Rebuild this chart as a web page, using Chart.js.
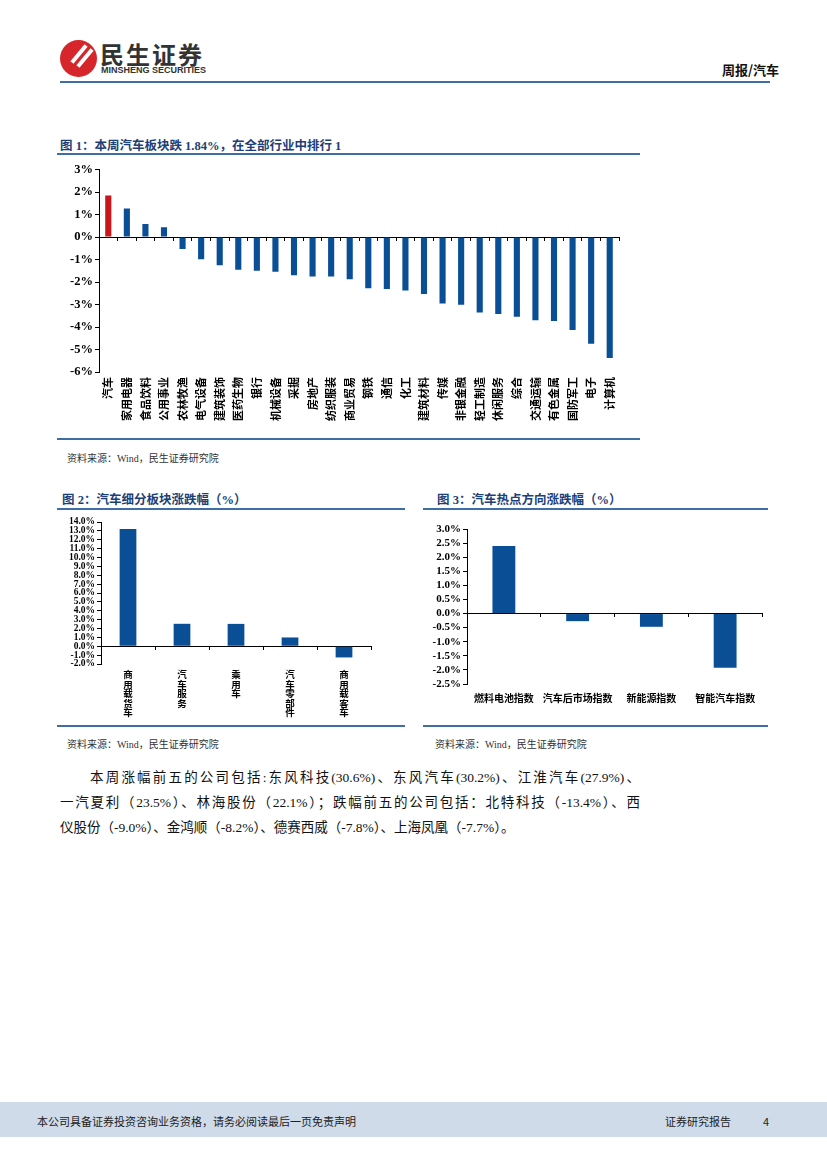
<!DOCTYPE html>
<html>
<head>
<meta charset="utf-8">
<script src="https://cdn.jsdelivr.net/npm/chart.js@4.4.0/dist/chart.umd.min.js"></script>
<style>
  body { margin: 0; width: 827px; height: 1169px; position: relative; background: #fff;
         font-family: "Noto Sans CJK SC", sans-serif; overflow: hidden; }
  .abs { position: absolute; }
  .title { font-size: 12.5px; font-weight: bold; color: #1c3f78; font-family: "Liberation Serif", "Noto Sans CJK SC", serif; }
  .rule { height: 2px; background: #3f6ea3; }
  .src { font-size: 10px; color: #333; font-family: "Liberation Serif", "Noto Sans CJK SC", serif; }
  .para { font-size: 13.5px; color: #111; font-family: "Liberation Serif", "Noto Sans CJK SC", serif; }
</style>
</head>
<body>
<!-- header -->
<div class="abs" style="left:60px;top:40px;width:37px;height:37px;border-radius:50%;background:#d7262b;"></div>
<div class="abs" style="left:68px;top:52px;width:22px;height:4px;background:#fff;transform:rotate(-50deg);"></div>
<div class="abs" style="left:74px;top:56px;width:22px;height:4px;background:#fff;transform:rotate(-50deg);"></div>
<div class="abs" style="left:100px;top:36px;font-size:24px;font-weight:bold;color:#333;letter-spacing:2px;">民生证券</div>
<div class="abs" style="left:101px;top:65px;font-size:9px;font-weight:bold;color:#333;font-family:'Liberation Sans Narrow','Liberation Sans',sans-serif;">MINSHENG SECURITIES</div>
<div class="abs" style="left:722px;top:60px;font-size:13px;font-weight:bold;color:#111;">周报/汽车</div>
<div class="abs rule" style="left:60px;top:81px;width:710px;"></div>

<!-- figure 1 -->
<div class="abs title" style="left:60px;top:135px;">图 1：本周汽车板块跌 1.84%，在全部行业中排行 1</div>
<div class="abs rule" style="left:57px;top:153px;width:583px;"></div>
<div class="abs" style="left:60px;top:160px;width:580px;height:276px;"><canvas id="chart1"></canvas></div>
<div class="abs rule" style="left:57px;top:438px;width:583px;"></div>
<div class="abs src" style="left:67px;top:450px;">资料来源：Wind，民生证券研究院</div>

<!-- figure 2 -->
<div class="abs title" style="left:62px;top:489px;">图 2：汽车细分板块涨跌幅（%）</div>
<div class="abs rule" style="left:57px;top:508px;width:348px;"></div>
<div class="abs" style="left:60px;top:514px;width:345px;height:210px;"><canvas id="chart2"></canvas></div>
<div class="abs rule" style="left:57px;top:725px;width:348px;"></div>
<div class="abs src" style="left:67px;top:736px;">资料来源：Wind，民生证券研究院</div>

<!-- figure 3 -->
<div class="abs title" style="left:437px;top:489px;">图 3：汽车热点方向涨跌幅（%）</div>
<div class="abs rule" style="left:423px;top:508px;width:345px;"></div>
<div class="abs" style="left:423px;top:518px;width:345px;height:205px;"><canvas id="chart3"></canvas></div>
<div class="abs rule" style="left:423px;top:725px;width:345px;"></div>
<div class="abs src" style="left:435px;top:736px;">资料来源：Wind，民生证券研究院</div>

<!-- paragraph -->
<div class="abs para" style="left:90px;top:766px;width:550px;text-align:justify;text-align-last:justify;">本周涨幅前五的公司包括:东风科技(30.6%)、东风汽车(30.2%)、江淮汽车(27.9%)、</div>
<div class="abs para" style="left:60px;top:791px;width:580px;text-align:justify;text-align-last:justify;">一汽夏利（23.5%）、林海股份（22.1%）；跌幅前五的公司包括：北特科技（-13.4%）、西</div>
<div class="abs para" style="left:60px;top:816px;">仪股份（-9.0%）、金鸿顺（-8.2%）、德赛西威（-7.8%）、上海凤凰（-7.7%）。</div>

<!-- footer -->
<div class="abs" style="left:0;top:1102px;width:827px;height:35px;background:#cfdbe9;"></div>
<div class="abs" style="left:37px;top:1113px;font-size:11px;color:#222;">本公司具备证券投资咨询业务资格，请务必阅读最后一页免责声明</div>
<div class="abs" style="left:665px;top:1113px;font-size:11px;color:#222;">证券研究报告</div>
<div class="abs" style="left:763px;top:1113px;font-size:11px;color:#222;">4</div>

<script>
// figure 1: industries
const industries = ['汽车', '家用电器', '食品饮料', '公用事业', '农林牧渔', '电气设备', '建筑装饰', '医药生物',
  '银行', '机械设备', '采掘', '房地产', '纺织服装', '商业贸易', '钢铁', '通信', '化工', '建筑材料', '传媒',
  '非银金融', '轻工制造', '休闲服务', '综合', '交通运输', '有色金属', '国防军工', '电子', '计算机'];
const industryChange = [1.84, 1.27, 0.58, 0.43, -0.53, -0.99, -1.26, -1.45, -1.50, -1.54, -1.70, -1.75, -1.76,
  -1.88, -2.28, -2.31, -2.38, -2.53, -2.95, -3.01, -3.35, -3.42, -3.54, -3.70, -3.73, -4.13, -4.74, -5.38];

// figure 2: auto sub-sectors
const subSectors = ['商用载货车', '汽车服务', '乘用车', '汽车零部件', '商用载客车'];
const subSectorChange = [13.2, 2.53, 2.52, 0.99, -1.26];

// figure 3: hot themes
const themes = ['燃料电池指数', '汽车后市场指数', '新能源指数', '智能汽车指数'];
const themeChange = [2.40, -0.27, -0.47, -1.92];

const BLUE = '#0a4f95';
const RED = '#c8161d';
const tickFont = { family: '"Liberation Serif", "Noto Sans CJK SC", serif', weight: 'bold', size: 11 };
const labelFont = { family: '"Noto Sans CJK SC", sans-serif', weight: 'bold', size: 10 };

function makeChart(id, labels, values, colors, opts) {
  const ctx = document.getElementById(id).getContext('2d');
  return new Chart(ctx, {
    type: 'bar',
    data: {
      labels: labels,
      datasets: [{
        data: values,
        backgroundColor: colors,
        borderWidth: 0,
        barPercentage: opts.barPct,
        categoryPercentage: 1
      }]
    },
    options: {
      responsive: true,
      maintainAspectRatio: false,
      animation: false,
      layout: { padding: { top: opts.padTop, right: opts.padRight, left: 0, bottom: 0 } },
      plugins: { legend: { display: false }, tooltip: { enabled: false } },
      scales: {
        x: {
          type: 'category',
          position: 'bottom',
          offset: true,
          border: { display: false },
          grid: { display: false, drawTicks: false },
          ticks: Object.assign({ color: '#000', font: opts.xFont || labelFont, autoSkip: false, padding: opts.xPad },
            opts.xTicks || {}),
          afterFit: s => { s.height = opts.xHeight; }
        },
        // zero line with small tick marks between categories
        x2: {
          type: 'category',
          position: { y: 0 },
          offset: true,
          border: { color: '#000', width: 1 },
          grid: { offset: true, drawOnChartArea: false, drawTicks: true, tickLength: 3, color: '#000' },
          ticks: { display: false }
        },
        y: {
          min: opts.min,
          max: opts.max,
          border: { color: '#000', width: 1 },
          grid: { drawOnChartArea: false, drawTicks: true, tickLength: 4, color: '#000' },
          ticks: {
            stepSize: opts.step,
            autoSkip: false,
            color: '#000',
            padding: 2,
            font: opts.yFont || tickFont,
            callback: opts.fmt
          },
          afterFit: s => { s.width = opts.yWidth; }
        }
      }
    }
  });
}

makeChart('chart1', industries, industryChange,
  industries.map((c, i) => i === 0 ? RED : BLUE), {
    barPct: 0.33, padTop: 9, padRight: 21, yWidth: 39, xHeight: 64, xPad: 5,
    min: -6, max: 3, step: 1, fmt: v => v + '%',
    yFont: { family: '"Liberation Serif", serif', weight: 'bold', size: 12.5 },
    xFont: { family: '"Noto Sans CJK SC", sans-serif', weight: 'bold', size: 11 },
    xTicks: { minRotation: 90, maxRotation: 90 }
  });

// stacked upright characters under each bar
makeChart('chart2', subSectors.map(s => s.split('')), subSectorChange, BLUE, {
    barPct: 0.31, padTop: 8, padRight: 34, yWidth: 41, xHeight: 60, xPad: 6,
    min: -2, max: 14, step: 1, fmt: v => v.toFixed(1) + '%',
    yFont: { family: '"Liberation Serif", serif', weight: 'bold', size: 9.5, lineHeight: 1 },
    xFont: { family: '"Noto Sans CJK SC", sans-serif', weight: 'bold', size: 9.5, lineHeight: 1 },
    xTicks: { minRotation: 0, maxRotation: 0 }
  });

makeChart('chart3', themes, themeChange, BLUE, {
    barPct: 0.31, padTop: 11, padRight: 6, yWidth: 44, xHeight: 39, xPad: 8,
    min: -2.5, max: 3, step: 0.5, fmt: v => v.toFixed(1) + '%',
    yFont: { family: '"Liberation Serif", serif', weight: 'bold', size: 11 },
    xFont: { family: '"Noto Sans CJK SC", sans-serif', weight: 'bold', size: 10 },
    xTicks: { minRotation: 0, maxRotation: 0 }
  });
</script>
</body>
</html>
